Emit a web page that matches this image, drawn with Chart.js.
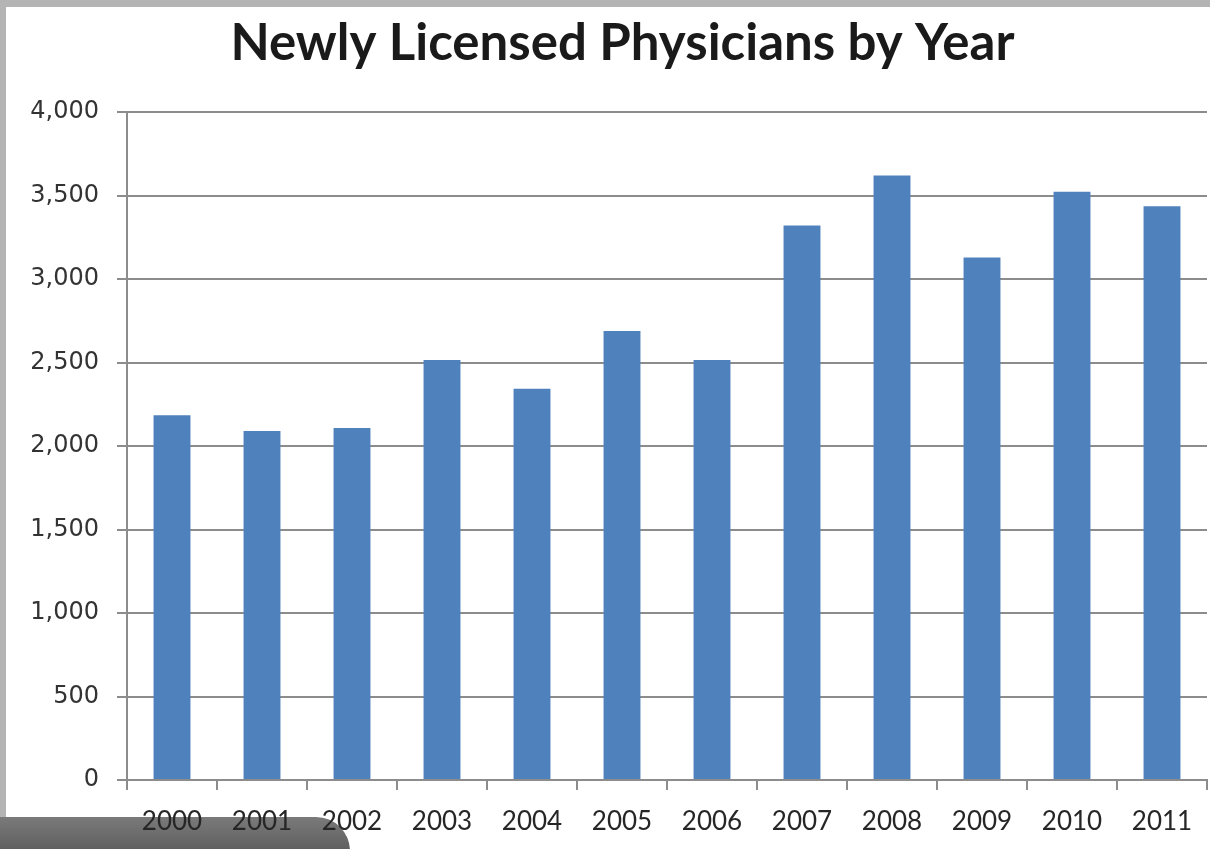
<!DOCTYPE html>
<html>
<head>
<meta charset="utf-8">
<script src="https://cdn.jsdelivr.net/npm/chart.js@4/dist/chart.umd.min.js"></script>
<style>
  html, body { margin: 0; padding: 0; }
  body { width: 1210px; height: 849px; background: #b4b4b4; overflow: hidden; position: relative; }
  #panel { position: absolute; left: 6px; top: 7px; width: 1204px; height: 842px; background: #fff; }
  #tab { position: absolute; left: -6px; top: 810px; width: 350px; height: 40px;
         background: linear-gradient(#7a7a7a, #5a5a5a); border-top-right-radius: 34px; }
  #myChart { position: absolute; left: 0; top: 0; }
</style>
</head>
<body>
<div id="panel">
  <div id="tab"></div>
  <canvas id="myChart" width="1204" height="842"></canvas>
</div>
<script>
const years = ['2000', '2001', '2002', '2003', '2004', '2005', '2006', '2007', '2008', '2009', '2010', '2011'];
const physicians = [2185, 2090, 2108, 2515, 2343, 2690, 2515, 3321, 3621, 3130, 3523, 3437];
const yTicks = [0, 500, 1000, 1500, 2000, 2500, 3000, 3500, 4000];

const axisGray = '#8c8c8c';

// the original title sits a bit right of the page centre
const nudgeTitle = {
    id: 'nudgeTitle',
    afterLayout(chart) {
        if (chart.titleBlock) chart.titleBlock.left += 32;
    }
};

const ctx = document.getElementById('myChart').getContext('2d');
const myChart = new Chart(ctx, {
    type: 'bar',
    data: {
        labels: years,
        datasets: [{
            label: 'Newly Licensed Physicians',
            data: physicians,
            backgroundColor: '#4f81bd',
            borderWidth: 0,
            categoryPercentage: 1,
            barPercentage: 0.41
        }]
    },
    options: {
        responsive: false,
        animation: false,
        layout: { padding: { left: 0, right: 3, top: 0, bottom: 0 } },
        plugins: {
            legend: { display: false },
            tooltip: { enabled: false },
            title: {
                display: true,
                text: 'Newly Licensed Physicians by Year',
                color: '#1a1a1a',
                font: { family: 'Lato', size: 51, weight: 'bold', lineHeight: 1.2 },
                padding: { top: 6, bottom: 38 }
            }
        },
        scales: {
            x: {
                grid: { offset: true, drawOnChartArea: false, color: axisGray, lineWidth: 2, tickLength: 10 },
                border: { color: axisGray, width: 2 },
                ticks: { color: '#262626', padding: 16, font: { family: 'Lato', size: 26 } },
                afterFit(scale) { scale.height = 69; }
            },
            y: {
                min: 0,
                max: 4000,
                afterBuildTicks(scale) { scale.ticks = yTicks.map(v => ({ value: v })); },
                grid: { color: axisGray, lineWidth: 2, tickLength: 10 },
                border: { color: axisGray, width: 2 },
                ticks: {
                    color: '#333',
                    padding: 18,
                    font: { family: 'DejaVu Sans', size: 24 },
                    callback: v => v.toLocaleString('en-US')
                },
                afterFit(scale) { scale.width = 121; }
            }
        }
    },
    plugins: [nudgeTitle]
});
</script>
</body>
</html>
